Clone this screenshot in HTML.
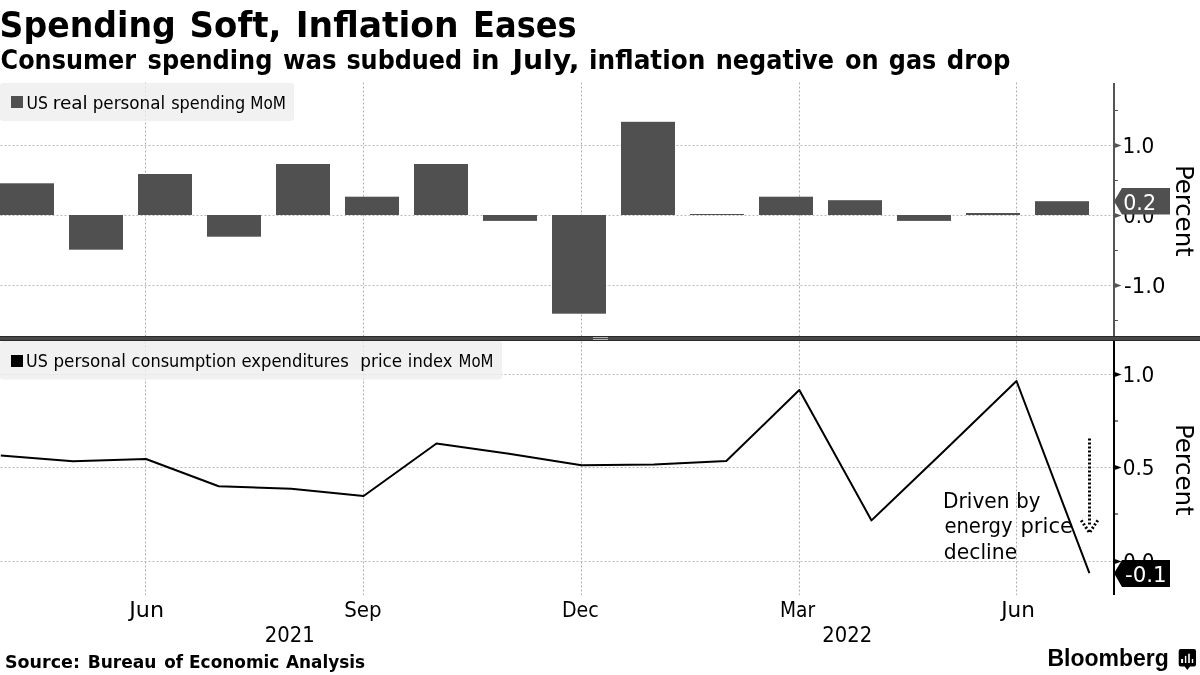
<!DOCTYPE html>
<html lang="en"><head><meta charset="utf-8"><title>Spending Soft, Inflation Eases</title>
<style>html,body{margin:0;padding:0;background:#fff}svg{display:block}text{font-family:"DejaVu Sans Condensed","DejaVu Sans","Liberation Sans",sans-serif;fill:#000}.b{font-weight:bold}.g{stroke:#aeaeae;stroke-width:1;stroke-dasharray:2 2;fill:none}.h{stroke:#bababa}</style></head><body>
<svg width="1200" height="675" viewBox="0 0 1200 675">
<rect width="1200" height="675" fill="#fff"/>
<path class="g" d="M145.5 82.5V336"/>
<path class="g" d="M145.5 341.5V595"/>
<path class="g" d="M363.5 82.5V336"/>
<path class="g" d="M363.5 341.5V595"/>
<path class="g" d="M581.5 82.5V336"/>
<path class="g" d="M581.5 341.5V595"/>
<path class="g" d="M799.5 82.5V336"/>
<path class="g" d="M799.5 341.5V595"/>
<path class="g" d="M1016.5 82.5V336"/>
<path class="g" d="M1016.5 341.5V595"/>
<path class="g h" d="M0.5 145.5H1113"/>
<path class="g h" d="M0.5 215.5H1113"/>
<path class="g h" d="M0.5 285.5H1113"/>
<path class="g h" d="M0.5 374.5H1113"/>
<path class="g h" d="M0.5 467.5H1113"/>
<path class="g h" d="M0.5 561.5H1113"/>
<rect x="0" y="83" width="294" height="38" rx="3" fill="#eee" fill-opacity="0.8"/>
<rect x="11" y="96" width="12" height="12" fill="#505050"/>
<text y="108.70" font-size="17.5"><tspan x="26.45" textLength="21.42" lengthAdjust="spacingAndGlyphs">US</tspan> <tspan x="52.81" textLength="34.94" lengthAdjust="spacingAndGlyphs">real</tspan> <tspan x="92.66" textLength="72.43" lengthAdjust="spacingAndGlyphs">personal</tspan> <tspan x="171.15" textLength="74.02" lengthAdjust="spacingAndGlyphs">spending</tspan> <tspan x="250.32" textLength="35.68" lengthAdjust="spacingAndGlyphs">MoM</tspan></text>
<rect x="0" y="341" width="502" height="38.5" rx="3" fill="#eee" fill-opacity="0.8"/>
<rect x="11" y="355" width="12" height="12" fill="#000"/>
<text y="367.30" font-size="17.5"><tspan x="26.13" textLength="21.76" lengthAdjust="spacingAndGlyphs">US</tspan> <tspan x="53.46" textLength="72.38" lengthAdjust="spacingAndGlyphs">personal</tspan> <tspan x="131.60" textLength="104.75" lengthAdjust="spacingAndGlyphs">consumption</tspan> <tspan x="241.59" textLength="107.20" lengthAdjust="spacingAndGlyphs">expenditures</tspan> <tspan x="360.36" textLength="41.86" lengthAdjust="spacingAndGlyphs">price</tspan> <tspan x="407.86" textLength="44.58" lengthAdjust="spacingAndGlyphs">index</tspan> <tspan x="458.55" textLength="34.91" lengthAdjust="spacingAndGlyphs">MoM</tspan></text>
<rect x="0" y="183.3" width="54" height="31.7" fill="#505050"/>
<rect x="69" y="215.0" width="54" height="34.7" fill="#505050"/>
<rect x="138" y="174.0" width="54" height="41.0" fill="#505050"/>
<rect x="207" y="215.0" width="54" height="21.7" fill="#505050"/>
<rect x="276" y="164.0" width="54" height="51.0" fill="#505050"/>
<rect x="345" y="196.7" width="54" height="18.3" fill="#505050"/>
<rect x="414" y="164.0" width="54" height="51.0" fill="#505050"/>
<rect x="483" y="215.0" width="54" height="5.9" fill="#505050"/>
<rect x="552" y="215.0" width="54" height="98.7" fill="#505050"/>
<rect x="621" y="121.8" width="54" height="93.2" fill="#505050"/>
<rect x="690" y="214.0" width="54" height="1.0" fill="#505050"/>
<rect x="759" y="196.7" width="54" height="18.3" fill="#505050"/>
<rect x="828" y="200.2" width="54" height="14.8" fill="#505050"/>
<rect x="897" y="215.0" width="54" height="5.9" fill="#505050"/>
<rect x="966" y="213.0" width="54" height="2.0" fill="#505050"/>
<rect x="1035" y="201.2" width="54" height="13.8" fill="#505050"/>
<rect x="0" y="336" width="1200" height="5" fill="#484848"/>
<rect x="0" y="336" width="1200" height="1" fill="#2a2a2a"/>
<rect x="0" y="340" width="1200" height="1" fill="#2a2a2a"/>
<rect x="593" y="337" width="15" height="1" fill="#b4b4b4"/>
<rect x="593" y="339" width="15" height="1" fill="#b4b4b4"/>
<rect x="1113" y="83" width="2" height="253" fill="#555"/>
<rect x="1115" y="110.0" width="3" height="1" fill="#555"/>
<rect x="1115" y="180.0" width="3" height="1" fill="#555"/>
<rect x="1115" y="250.0" width="3" height="1" fill="#555"/>
<rect x="1115" y="320.0" width="3" height="1" fill="#555"/>
<path d="M1114 142.7L1121.5 145.5L1114 148.3Z" fill="#555"/>
<path d="M1114 212.7L1121.5 215.5L1114 218.3Z" fill="#555"/>
<path d="M1114 282.7L1121.5 285.5L1114 288.3Z" fill="#555"/>
<text x="1122.42" y="152.90" font-size="21" textLength="31.92" lengthAdjust="spacingAndGlyphs">1.0</text>
<text x="1123.30" y="222.90" font-size="21" textLength="31.01" lengthAdjust="spacingAndGlyphs">0.0</text>
<text x="1124.00" y="292.80" font-size="21" textLength="41.42" lengthAdjust="spacingAndGlyphs">-1.0</text>
<path d="M1114 201.2L1122 188H1170V214.5H1122Z" fill="#505050"/>
<text x="1123.22" y="210.00" font-size="21" textLength="32.85" lengthAdjust="spacingAndGlyphs" style="fill:#fff">0.2</text>
<g transform="translate(1176 0) rotate(90)">
<text x="164.92" y="0.00" font-size="25" textLength="91.81" lengthAdjust="spacingAndGlyphs">Percent</text>
</g>
<rect x="1113" y="341" width="2" height="254" fill="#000"/>
<rect x="1115" y="420.5" width="3" height="1" fill="#000"/>
<rect x="1115" y="513.5" width="3" height="1" fill="#000"/>
<path d="M1114 371.7L1121.5 374.5L1114 377.3Z" fill="#000"/>
<path d="M1114 464.7L1121.5 467.5L1114 470.3Z" fill="#000"/>
<path d="M1114 558.7L1121.5 561.5L1114 564.3Z" fill="#000"/>
<text x="1122.42" y="381.60" font-size="21" textLength="31.92" lengthAdjust="spacingAndGlyphs">1.0</text>
<text x="1122.67" y="474.50" font-size="21" textLength="31.81" lengthAdjust="spacingAndGlyphs">0.5</text>
<text x="1123.30" y="568.80" font-size="21" textLength="31.01" lengthAdjust="spacingAndGlyphs">0.0</text>
<path d="M1114 573.2L1122 560H1170V587H1122Z" fill="#000"/>
<text x="1124.99" y="581.60" font-size="21" textLength="41.72" lengthAdjust="spacingAndGlyphs" style="fill:#fff">-0.1</text>
<g transform="translate(1176 0) rotate(90)">
<text x="423.93" y="0.00" font-size="25" textLength="91.60" lengthAdjust="spacingAndGlyphs">Percent</text>
</g>
<polyline fill="none" stroke="#000" stroke-width="2" stroke-linejoin="round" points="0.8,455.5 73.0,461.3 146.0,459.0 218.7,486.3 291.2,488.8 363.6,496.0 436.5,443.5 509.0,453.7 581.5,465.3 654.0,464.5 726.3,461.0 799.3,390.0 871.5,520.4 944.3,450.7 1016.5,381.0 1089.4,573.2"/>
<text y="507.70" font-size="21"><tspan x="943.04" textLength="66.47" lengthAdjust="spacingAndGlyphs">Driven</tspan> <tspan x="1016.19" textLength="24.18" lengthAdjust="spacingAndGlyphs">by</tspan></text>
<text y="533.40" font-size="21"><tspan x="944.41" textLength="68.20" lengthAdjust="spacingAndGlyphs">energy</tspan> <tspan x="1020.47" textLength="52.49" lengthAdjust="spacingAndGlyphs">price</tspan></text>
<text y="559.20" font-size="21"><tspan x="943.87" textLength="73.33" lengthAdjust="spacingAndGlyphs">decline</tspan></text>
<path d="M1089.5 438.4V526M1081.2 520.3L1089.5 532.7M1097.8 520.3L1089.5 532.7" stroke="#000" stroke-width="3" stroke-dasharray="2 2" fill="none"/>
<text x="129.31" y="617.00" font-size="21" textLength="34.76" lengthAdjust="spacingAndGlyphs">Jun</text>
<text x="344.18" y="617.00" font-size="21" textLength="37.40" lengthAdjust="spacingAndGlyphs">Sep</text>
<text x="561.95" y="617.00" font-size="21" textLength="36.78" lengthAdjust="spacingAndGlyphs">Dec</text>
<text x="779.99" y="617.00" font-size="21" textLength="35.11" lengthAdjust="spacingAndGlyphs">Mar</text>
<text x="1001.18" y="617.00" font-size="21" textLength="33.64" lengthAdjust="spacingAndGlyphs">Jun</text>
<text x="264.83" y="641.80" font-size="21" textLength="49.95" lengthAdjust="spacingAndGlyphs">2021</text>
<text x="822.39" y="641.80" font-size="21" textLength="49.75" lengthAdjust="spacingAndGlyphs">2022</text>
<text class="b" y="36.70" font-size="35.5"><tspan x="-0.40" textLength="176.16" lengthAdjust="spacingAndGlyphs">Spending</tspan> <tspan x="189.64" textLength="91.83" lengthAdjust="spacingAndGlyphs">Soft,</tspan> <tspan x="295.74" textLength="162.90" lengthAdjust="spacingAndGlyphs">Inflation</tspan> <tspan x="473.06" textLength="103.59" lengthAdjust="spacingAndGlyphs">Eases</tspan></text>
<text class="b" y="68.90" font-size="26"><tspan x="0.55" textLength="135.50" lengthAdjust="spacingAndGlyphs">Consumer</tspan> <tspan x="147.60" textLength="124.81" lengthAdjust="spacingAndGlyphs">spending</tspan> <tspan x="282.92" textLength="53.67" lengthAdjust="spacingAndGlyphs">was</tspan> <tspan x="346.40" textLength="115.77" lengthAdjust="spacingAndGlyphs">subdued</tspan> <tspan x="471.48" textLength="28.14" lengthAdjust="spacingAndGlyphs">in</tspan> <tspan x="512.47" textLength="67.00" lengthAdjust="spacingAndGlyphs">July,</tspan> <tspan x="589.13" textLength="116.29" lengthAdjust="spacingAndGlyphs">inflation</tspan> <tspan x="715.80" textLength="118.22" lengthAdjust="spacingAndGlyphs">negative</tspan> <tspan x="844.90" textLength="33.60" lengthAdjust="spacingAndGlyphs">on</tspan> <tspan x="888.84" textLength="47.43" lengthAdjust="spacingAndGlyphs">gas</tspan> <tspan x="946.82" textLength="63.67" lengthAdjust="spacingAndGlyphs">drop</tspan></text>
<text class="b" y="667.50" font-size="17"><tspan x="4.99" textLength="74.94" lengthAdjust="spacingAndGlyphs">Source:</tspan> <tspan x="87.69" textLength="68.74" lengthAdjust="spacingAndGlyphs">Bureau</tspan> <tspan x="164.30" textLength="18.80" lengthAdjust="spacingAndGlyphs">of</tspan> <tspan x="189.05" textLength="90.35" lengthAdjust="spacingAndGlyphs">Economic</tspan> <tspan x="285.91" textLength="79.15" lengthAdjust="spacingAndGlyphs">Analysis</tspan></text>
<text class="b" x="1047.45" y="666.00" font-size="23" textLength="121.36" lengthAdjust="spacingAndGlyphs" style="font-family:'Liberation Sans',sans-serif">Bloomberg</text>
<path d="M1180.7 649H1194a2 2 0 0 1 2 2V664.5a2 2 0 0 1 -2 2H1190L1187.3 670L1184.7 666.5H1180.7a2 2 0 0 1 -2 -2V651a2 2 0 0 1 2 -2Z" fill="#000"/>
<rect x="1181.1" y="659.0" width="2.0" height="4.0" fill="#fff"/>
<rect x="1184.9" y="655.9" width="1.4" height="7.1" fill="#fff"/>
<rect x="1188.2" y="653.7" width="1.6" height="9.3" fill="#fff"/>
<rect x="1191.8" y="659.0" width="1.4" height="4.0" fill="#fff"/>
</svg></body></html>
